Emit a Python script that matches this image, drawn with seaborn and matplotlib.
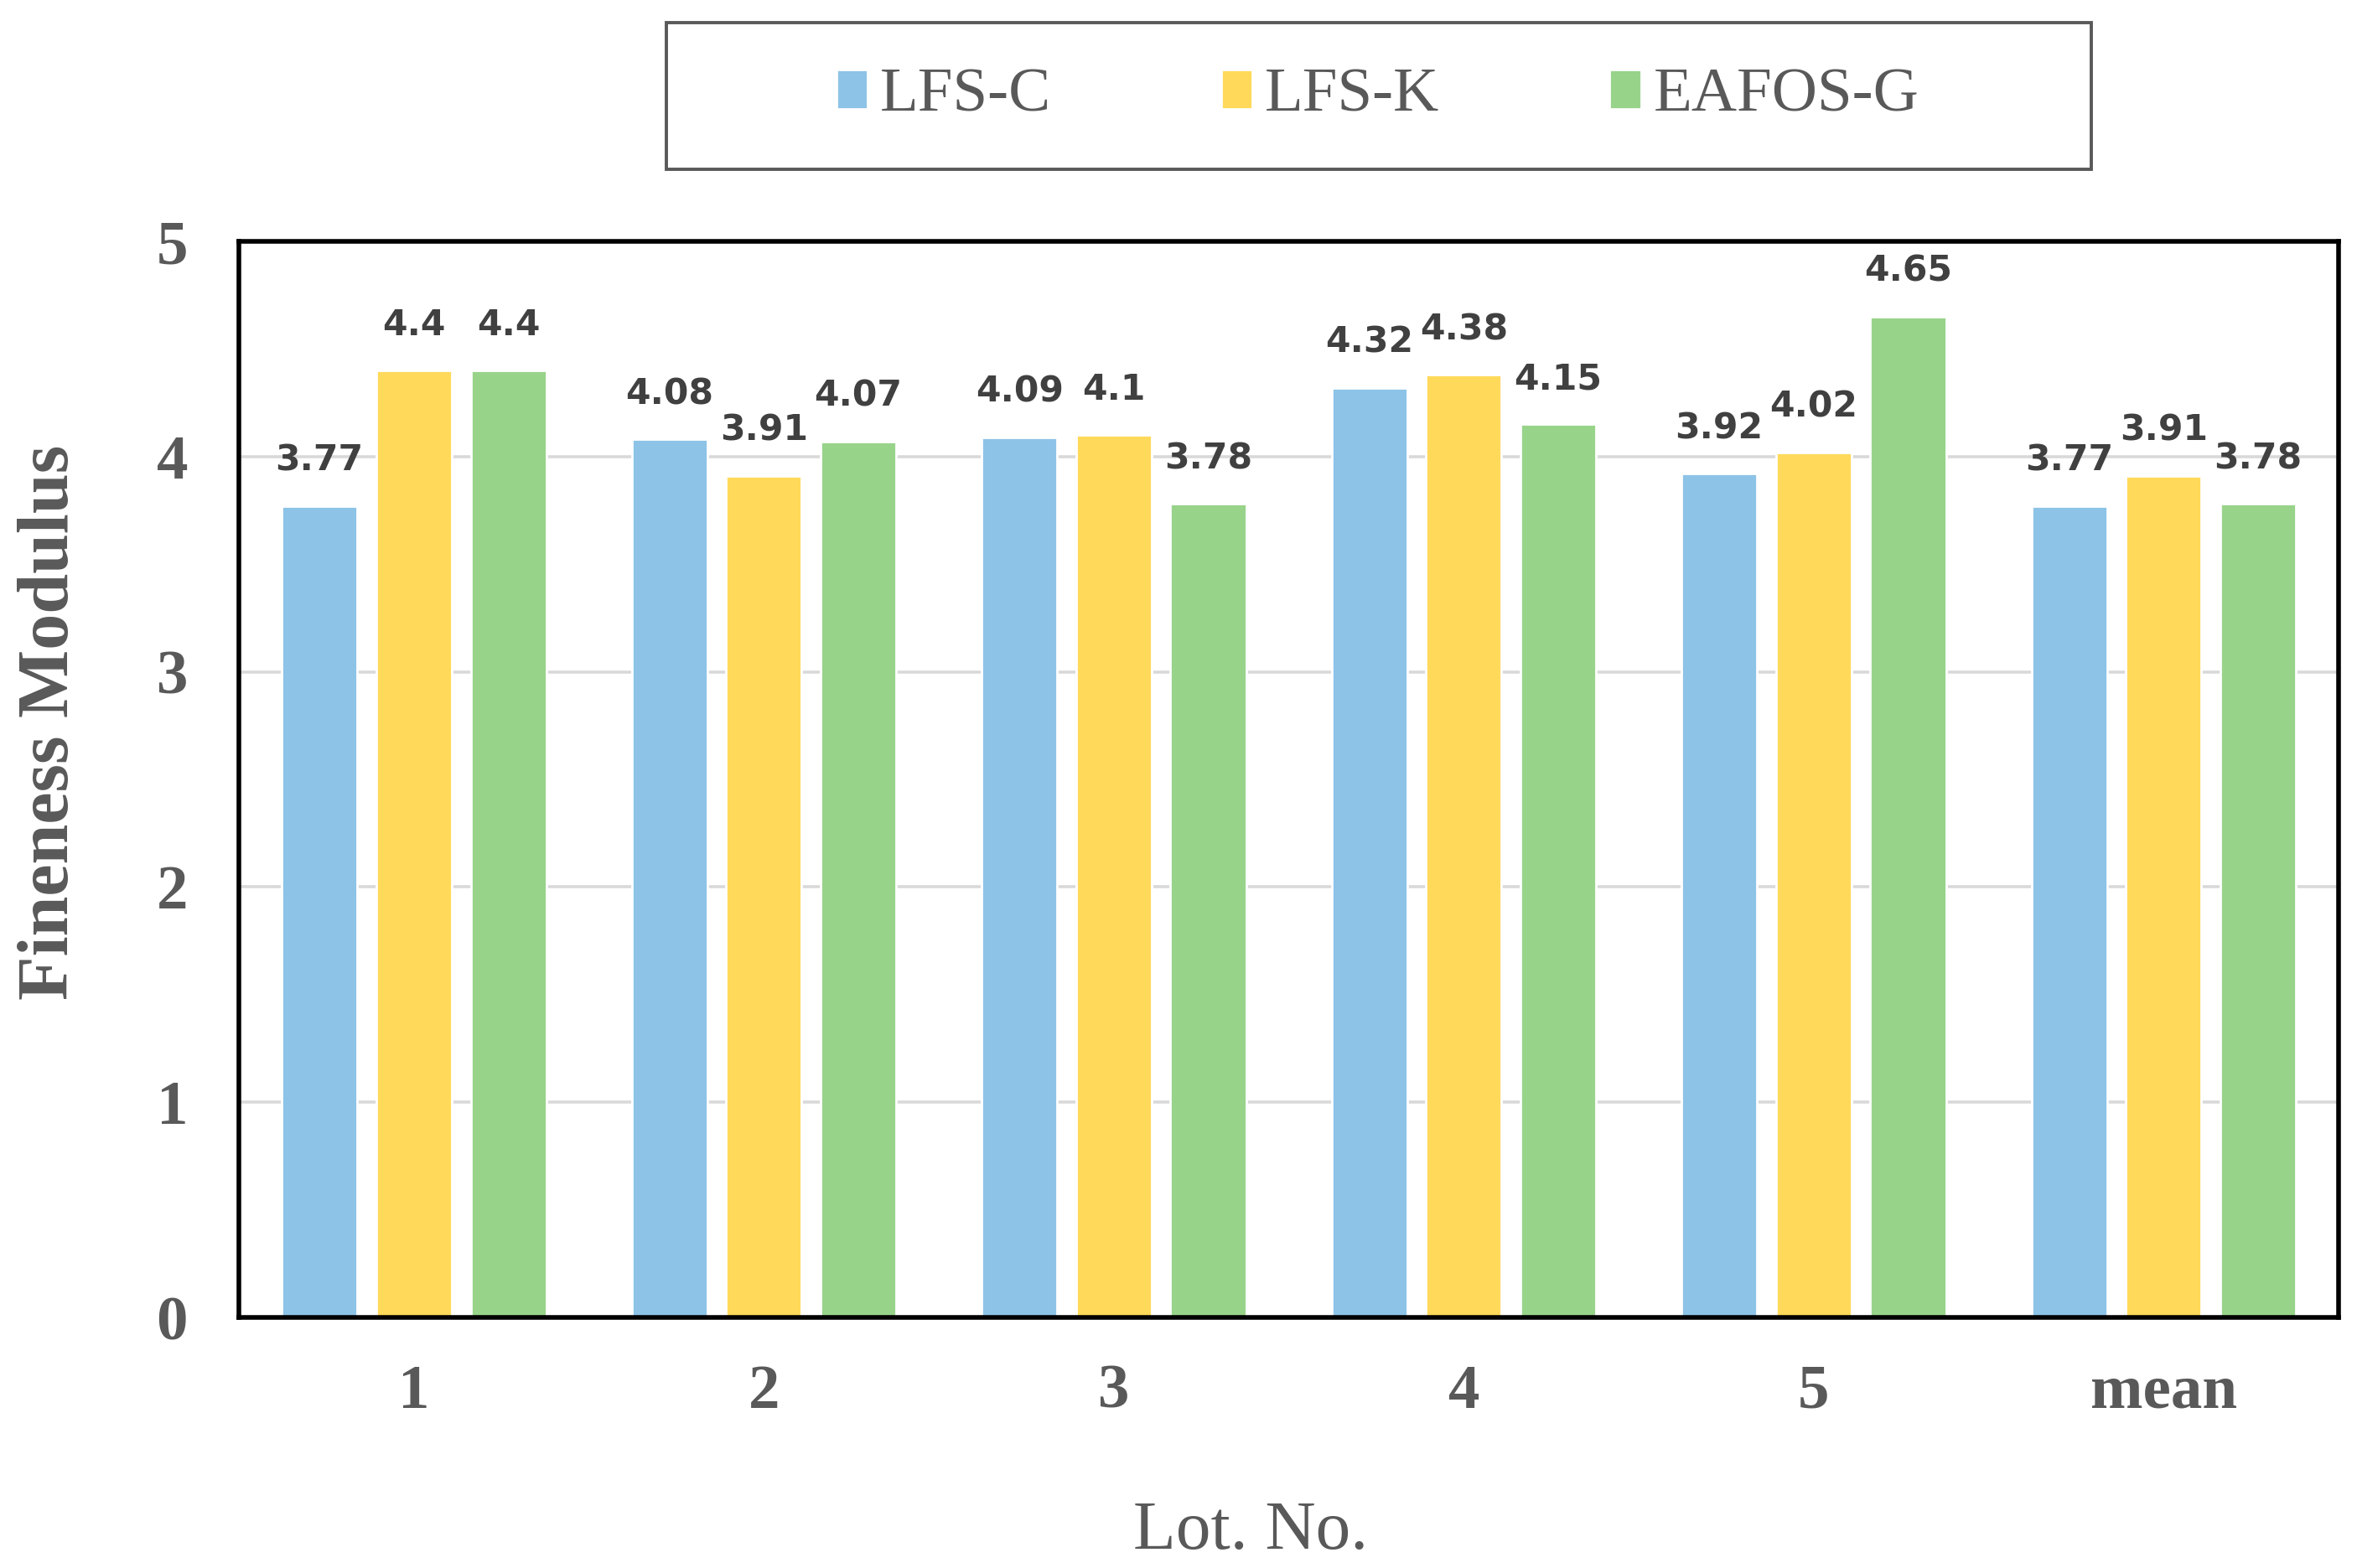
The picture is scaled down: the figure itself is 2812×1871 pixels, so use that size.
import matplotlib
matplotlib.use("Agg")
import matplotlib.pyplot as plt
from matplotlib.patches import Rectangle
import seaborn as sns
import pandas as pd

categories = ["1", "2", "3", "4", "5", "mean"]
series_names = ["LFS-C", "LFS-K", "EAFOS-G"]
lfs_c = [3.77, 4.08, 4.09, 4.32, 3.92, 3.77]
lfs_k = [4.4, 3.91, 4.1, 4.38, 4.02, 3.91]
eafos_g = [4.4, 4.07, 3.78, 4.15, 4.65, 3.78]
colors = ["#8DC3E7", "#FFD95A", "#98D38A"]

rows = []
for name, vals in zip(series_names, [lfs_c, lfs_k, eafos_g]):
    for c, v in zip(categories, vals):
        rows.append({"Lot": c, "Series": name, "FM": v})
df = pd.DataFrame(rows)

sns.set_theme(style="white")
plt.rcParams["font.family"] = ["Liberation Serif", "DejaVu Serif"]

fig = plt.figure(figsize=(14.06, 9.355), dpi=200)
ax = fig.add_axes([0.1014, 0.1598, 0.8908, 0.6862])

sns.barplot(data=df, x="Lot", y="FM", hue="Series", order=categories,
            hue_order=series_names, palette=colors, width=0.81, gap=0.2,
            saturation=1, ax=ax, legend=True, errorbar=None)

ax.set_ylim(0, 5)
ax.set_xlim(-0.5, 5.5)
ax.set_yticks([0, 1, 2, 3, 4, 5])
ax.yaxis.grid(True, color="#D9D9D9", linewidth=1.3)
ax.set_axisbelow(True)
for s in ax.spines.values():
    s.set_visible(True)
    s.set_color("black")
    s.set_linewidth(2.0)

ax.tick_params(axis="both", length=0, colors="#595959")
ax.tick_params(axis="y", pad=22, labelsize=27)
ax.tick_params(axis="x", pad=20, labelsize=27)
for lab in ax.get_xticklabels() + ax.get_yticklabels():
    lab.set_fontweight("bold")
    lab.set_color("#595959")

ax.set_ylabel("Fineness Modulus", fontsize=31, fontweight="bold", color="#595959")
ax.yaxis.set_label_coords(-0.074, 0.553)
ax.set_xlabel("Lot. No.", fontsize=30, color="#595959")
ax.xaxis.set_label_coords(0.482, -0.170)

for cont, vals in zip(ax.containers, [lfs_c, lfs_k, eafos_g]):
    ax.bar_label(cont, labels=[f"{v:g}" for v in vals], padding=12,
                 fontsize=15.3, fontweight="bold", color="#404040",
                 family="DejaVu Sans")

handles, labels = ax.get_legend_handles_labels()
ax.get_legend().remove()
fig.legend(handles, labels, loc="center", bbox_to_anchor=(0.5845, 0.9385),
           ncol=3, frameon=False, fontsize=27, handlelength=0.5,
           handleheight=0.6, handletextpad=0.2, columnspacing=2.7,
           labelcolor="#595959")
fig.patches.append(Rectangle((0.2827, 0.892), 0.6046, 0.0936,
                             transform=fig.transFigure, fill=False,
                             edgecolor="#595959", linewidth=1.4))

fig.savefig("out.png", dpi=200)
